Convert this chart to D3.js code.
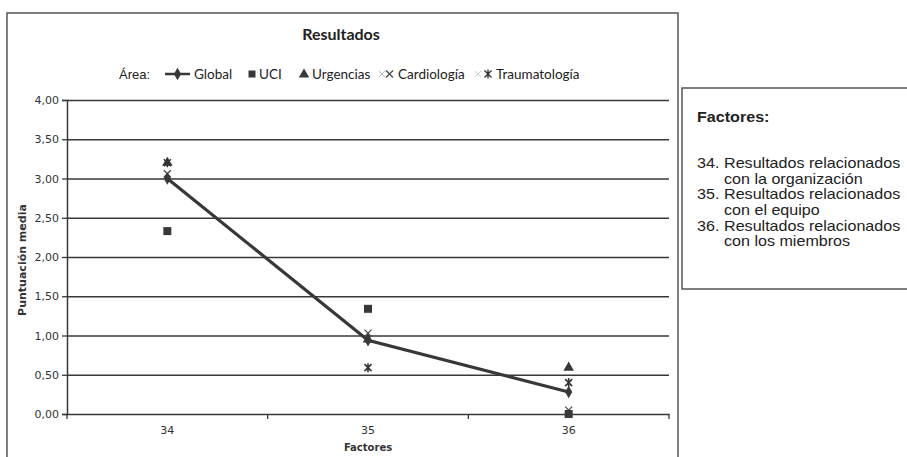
<!DOCTYPE html>
<html><head><meta charset="utf-8">
<script src="https://cdn.jsdelivr.net/npm/d3@7"></script>
<style>
html,body{margin:0;padding:0;background:#fff;}
svg{display:block;}
</style></head>
<body>
<svg id="c" width="907" height="457"></svg>
<script>
// ---- data ----
const categories = ["34", "35", "36"];
const globalValues = [3.00, 0.94, 0.28];
const uciValues = [2.33, 1.34, 0.00];
const urgenciasValues = [3.20, 0.95, 0.59];
const cardiologiaValues = [3.06, 1.03, 0.05];
const traumatologiaValues = [3.20, 0.59, 0.40];
const yTickValues = [0, 0.5, 1, 1.5, 2, 2.5, 3, 3.5, 4];
const seriesNames = ["Global", "UCI", "Urgencias", "Cardiología", "Traumatología"];
const factorNumbers = ["34.", "35.", "36."];
const factorLines = [
  ["Resultados relacionados", "con la organización"],
  ["Resultados relacionados", "con el equipo"],
  ["Resultados relacionados", "con los miembros"]
];

const svg = d3.select("#c");
const dark = "#383838";

// outer chart box
svg.append("rect").attr("x", 7).attr("y", 13).attr("width", 671).attr("height", 460)
  .attr("fill", "none").attr("stroke", "#555").attr("stroke-width", 1.5);

// right box
svg.append("rect").attr("x", 682).attr("y", 88).attr("width", 240).attr("height", 201)
  .attr("fill", "none").attr("stroke", "#555").attr("stroke-width", 1.5);

const x = d3.scaleBand().domain(categories).range([67, 669]);
const y = d3.scaleLinear().domain([0, 4]).range([414, 100]);
const fmt = v => d3.format(".2f")(v).replace(".", ",");

// gridlines
svg.append("g").attr("transform", "translate(67,0)")
  .call(d3.axisLeft(y).tickValues(yTickValues.slice(1)).tickSize(-602).tickFormat(""))
  .call(g => g.select(".domain").remove())
  .call(g => g.selectAll("line").attr("stroke", dark).attr("stroke-width", 1.3));

// y axis
svg.append("g").attr("transform", "translate(67,0)")
  .call(d3.axisLeft(y).tickValues(yTickValues).tickSize(5).tickPadding(3).tickFormat(fmt))
  .call(g => g.select(".domain").attr("stroke", dark).attr("stroke-width", 1.5))
  .call(g => g.selectAll("line").attr("stroke", dark).attr("stroke-width", 1.3))
  .call(g => g.selectAll("text").attr("font-family", "DejaVu Sans").attr("font-size", 11).attr("fill", "#333"));

// x axis
svg.append("g").attr("transform", "translate(0,414)")
  .call(d3.axisBottom(x).tickSize(0).tickPadding(12))
  .call(g => g.select(".domain").attr("stroke", dark).attr("stroke-width", 1.5))
  .call(g => g.selectAll("text").attr("font-family", "DejaVu Sans").attr("font-size", 11).attr("fill", "#333"));
// boundary ticks
const bounds = categories.map(c => x(c)).concat([x.range()[1]]);
svg.append("g").selectAll("line").data(bounds).join("line")
  .attr("x1", d => d).attr("x2", d => d).attr("y1", 414).attr("y2", 419)
  .attr("stroke", dark).attr("stroke-width", 1.3);

// axis titles
svg.append("text").attr("transform", "translate(26,260) rotate(-90)")
  .attr("text-anchor", "middle").attr("font-family", "DejaVu Sans").attr("font-weight", "bold")
  .attr("font-size", 11).attr("fill", "#333").text("Puntuación media");
svg.append("text").attr("x", 368).attr("y", 451).attr("text-anchor", "middle")
  .attr("font-family", "DejaVu Sans").attr("font-weight", "bold").attr("font-size", 10)
  .attr("fill", "#333").text("Factores");

// title
svg.append("text").attr("x", 341).attr("y", 40).attr("text-anchor", "middle")
  .attr("font-family", "Lato").attr("font-weight", "bold").attr("font-size", 16)
  .attr("fill", "#222").text("Resultados");

// marker helpers
const cx = (d, i) => x(categories[i]) + x.bandwidth() / 2;
function xPath(s) { return `M${-s},${-s}L${s},${s}M${-s},${s}L${s},${-s}`; }
function starPath(s) { return `M${-s},${-s}L${s},${s}M${-s},${s}L${s},${-s}M0,${-s - 1}L0,${s + 1}`; }
const diamond = d3.symbol().type(d3.symbolDiamond).size(45)();
const square = d3.symbol().type(d3.symbolSquare).size(64)();
const triangle = d3.symbol().type(d3.symbolTriangle).size(48)();

// Global line
const line = d3.line().x((d, i) => cx(d, i)).y(d => y(d));
svg.append("path").datum(globalValues).attr("d", line)
  .attr("fill", "none").attr("stroke", dark).attr("stroke-width", 3.2);

// markers
function addMarkers(values, pathStr, opts) {
  svg.append("g").selectAll("path").data(values).join("path")
    .attr("transform", (d, i) => `translate(${cx(d, i)},${y(d)})`)
    .attr("d", pathStr)
    .attr("fill", opts.fill || "none")
    .attr("stroke", opts.stroke || "none")
    .attr("stroke-width", opts.sw || 1);
}
addMarkers(cardiologiaValues, xPath(3.5), { stroke: "#444", sw: 1.2 });
addMarkers(urgenciasValues, triangle, { fill: dark });
addMarkers(traumatologiaValues, starPath(3.5), { stroke: "#333", sw: 1.6 });
addMarkers(uciValues, square, { fill: dark });
addMarkers(globalValues, diamond, { fill: dark });

// legend
const ly = 74;
const lg = svg.append("g").attr("font-family", "Lato").attr("font-size", 13.5).attr("fill", "#222");
svg.append("text").attr("x", 119).attr("y", ly + 5).attr("font-family", "Liberation Sans")
  .attr("font-size", 13).attr("fill", "#222").text("Área:");
// Global
lg.append("line").attr("x1", 165).attr("x2", 190).attr("y1", ly).attr("y2", ly)
  .attr("stroke", dark).attr("stroke-width", 2.5);
lg.append("path").attr("transform", `translate(177.5,${ly})`).attr("d", diamond).attr("fill", dark);
// UCI
lg.append("path").attr("transform", `translate(252,${ly})`).attr("d", d3.symbol().type(d3.symbolSquare).size(49)()).attr("fill", dark);
// Urgencias
lg.append("path").attr("transform", `translate(304,${ly + 0.5})`).attr("d", triangle).attr("fill", dark);
// Cardiologia
lg.append("path").attr("transform", `translate(382,${ly})`).attr("d", xPath(3)).attr("stroke", "#bbb").attr("stroke-width", 1);
lg.append("path").attr("transform", `translate(389.5,${ly})`).attr("d", xPath(3.5)).attr("stroke", "#444").attr("stroke-width", 1.2);
// Traumatologia
lg.append("path").attr("transform", `translate(478,${ly})`).attr("d", xPath(3)).attr("stroke", "#ccc").attr("stroke-width", 1);
lg.append("path").attr("transform", `translate(488,${ly})`).attr("d", starPath(3.5)).attr("stroke", "#333").attr("stroke-width", 1.4);

const legendTextX = [194, 259, 312, 398, 496];
lg.selectAll("text.lt").data(seriesNames).join("text").attr("class", "lt")
  .attr("x", (d, i) => legendTextX[i]).attr("y", ly + 4.5).text(d => d);

// right box text (slightly widened glyphs, like the reference)
const rb = svg.append("g").attr("transform", "translate(697,0) scale(1.15,1)")
  .attr("font-family", "Liberation Sans").attr("fill", "#222");
rb.append("text").attr("x", 0).attr("y", 122).attr("font-weight", "bold").attr("font-size", 14).text("Factores:");
factorNumbers.forEach((n, i) => {
  const by = 168 + i * 31.4;
  rb.append("text").attr("x", 0).attr("y", by).attr("font-size", 14).text(n);
  factorLines[i].forEach((t, j) => {
    rb.append("text").attr("x", 23.5).attr("y", by + j * 15.7).attr("font-size", 14).text(t);
  });
});
</script>
</body></html>
